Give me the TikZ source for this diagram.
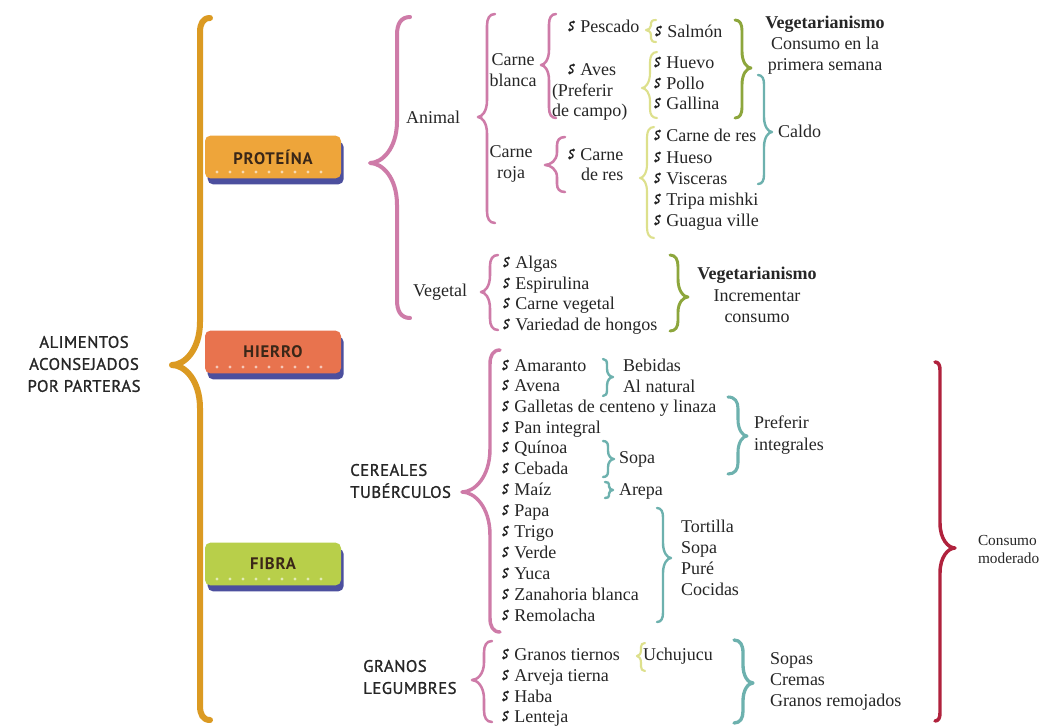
\documentclass[tikz,border=0pt]{standalone}
\usepackage{fontspec}
\usetikzlibrary{shadows}
\setmainfont{Liberation Serif}
\newfontfamily\capsfont[LetterSpace=3,FakeBold=1.2]{PT Sans}
\newfontfamily\boxfont[LetterSpace=5]{PT Sans}

\definecolor{orangeB}{HTML}{DB9A22}
\definecolor{pinkB}{HTML}{CE7BA8}
\definecolor{yellB}{HTML}{DDE08C}
\definecolor{oliveB}{HTML}{8DA63C}
\definecolor{tealB}{HTML}{6DB1AE}
\definecolor{redB}{HTML}{B0223D}
\definecolor{protF}{HTML}{EEA53A}
\definecolor{hierF}{HTML}{E8734E}
\definecolor{fibF}{HTML}{B8CF4A}
\definecolor{shadowC}{HTML}{4C4F9E}
\definecolor{inkC}{HTML}{262626}
\definecolor{labelC}{HTML}{3A2718}

% decorative list bullet: an S-shaped curl with a drop at each end
\newcommand\bul{\tikz[baseline={(0,0)}, x=1pt, y=1pt, line width=1.05pt, line cap=round]{%
  \fill[inkC] (4.1,7.5) circle (1.15);
  \draw[inkC] (4.1,7.5) .. controls (1.2,7.9) and (0.7,5.4) .. (2.5,4.7)
                        .. controls (4.3,4.0) and (4.3,1.5) .. (1.3,1.5);
  \fill[inkC] (1.3,1.6) circle (1.35);
}\hspace{4pt}}

% curly brace: style, body x, top y, bottom y, tip x, tip y, hook length (signed)
\newcommand\curlyb[7]{%
  \pgfmathsetmacro\cbdx{abs((#2)-(#5))}%
  \pgfmathsetmacro\cba{min(1.4*\cbdx+4,0.45*((#6)-(#3)))}%
  \pgfmathsetmacro\cbb{min(1.4*\cbdx+4,0.45*((#4)-(#6)))}%
  \pgfmathsetmacro\cbea{min(abs(#7)*1.2+2,0.3*((#6)-(#3)))}%
  \pgfmathsetmacro\cbeb{min(abs(#7)*1.2+2,0.3*((#4)-(#6)))}%
  \draw[#1] ({#2+(#7)},#3) .. controls ({#2+0.3*(#7)},#3) and (#2,{#3+0.4*\cbea}) .. (#2,{#3+\cbea})
    -- (#2,{#6-\cba}) .. controls (#2,{#6-0.35*\cba}) and ({#5+0.45*((#2)-(#5))},#6) .. (#5,#6)
    .. controls ({#5+0.45*((#2)-(#5))},#6) and (#2,{#6+0.35*\cbb}) .. (#2,{#6+\cbb})
    -- (#2,{#4-\cbeb}) .. controls (#2,{#4-0.4*\cbeb}) and ({#2+0.3*(#7)},#4) .. ({#2+(#7)},#4);
}

\tikzset{
  txt/.style={inner sep=0pt, outer sep=0pt, anchor=base west, text=inkC,
    font=\fontsize{13.5}{16}\selectfont},
  mtxt/.style={txt, anchor=west, align=left},
  tc/.style={txt, anchor=center, align=center},
  capslbl/.style={inner sep=0pt, anchor=west, align=left, text=inkC,
    font=\capsfont\fontsize{12.5}{16.5}\selectfont},
  catbox/.style={rounded corners=4pt, minimum width=102pt, minimum height=32pt,
    inner sep=0pt, text=labelC, font=\boxfont\bfseries\fontsize{12.5}{14}\selectfont,
    drop shadow={shadow xshift=2pt, shadow yshift=-4.5pt, fill=shadowC, opacity=1}},
  anybr/.style={line cap=round, line join=round},
  obr/.style={anybr, draw=orangeB, line width=4.5pt},
  pbr/.style={anybr, draw=pinkB, line width=1.9pt},
  ybr/.style={anybr, draw=yellB, line width=1.6pt},
  gbr/.style={anybr, draw=oliveB, line width=2.2pt},
  tbr/.style={anybr, draw=tealB, line width=1.8pt},
  rbr/.style={anybr, draw=redB, line width=2.6pt},
}

\begin{document}
\begin{tikzpicture}[x=0.75pt, y=-0.75pt]
\useasboundingbox (0,0) rectangle (1051,726);
\fill[white] (0,0) rectangle (1051,726);

% title and main brace
\node[capslbl, anchor=center, align=center] (title) at (84,364) {ALIMENTOS\\ACONSEJADOS\\POR PARTERAS};
\curlyb{obr}{200}{18}{720}{172}{365}{10}

% category boxes
\node[catbox, fill=protF] (prot) at (273,157) {PROTEÍNA};
\node[catbox, fill=hierF] (hierro) at (273,352) {HIERRO};
\node[catbox, fill=fibF] (fibra) at (273,564) {FIBRA};
\foreach \k in {0,...,8} {
  \fill[white, opacity=.6] ({217+13*\k},172) circle (1.6);
  \fill[white, opacity=.6] ({217+13*\k},367) circle (1.6);
  \fill[white, opacity=.6] ({217+13*\k},579) circle (1.6);
}

% ---------- protein ----------
\curlyb{pbr, line width=3pt}{397}{17}{318}{370}{163}{13}
\node[tc] (animal) at (433,117) {Animal};
\curlyb{pbr}{487}{14}{223}{478}{117}{8}
\node[tc] (cblanca) at (513,70) {Carne\\blanca};
\curlyb{pbr}{549}{14}{118}{541}{65}{7}
\node[txt] (pescado) at (568,32) {\bul Pescado};
\node[txt] (aves) at (568,75) {\bul Aves};
\node[txt] (aves2) at (552,96) {(Preferir};
\node[txt] (aves3) at (552,116) {de campo)};
\curlyb{ybr}{651}{20}{42}{646}{30}{5}
\node[txt] (salmon) at (655,37) {\bul Salmón};
\curlyb{ybr}{650}{52}{118}{642}{88}{7}
\node[txt] (huevo) at (654,68) {\bul Huevo};
\node[txt] (pollo) at (654,89) {\bul Pollo};
\node[txt] (gallina) at (654,109) {\bul Gallina};
\curlyb{gbr}{742}{20}{118}{751}{68}{-7}
\node[tc] (vegA) at (825,45) {\textbf{Vegetarianismo}\\Consumo en la\\primera semana};

\node[tc] (croja) at (511,164) {Carne\\roja};
\curlyb{pbr}{557}{137}{192}{545}{165}{8}
\node[txt] (carneres) at (568,160) {\bul Carne};
\node[txt] (deres) at (581,180) {de res};
\curlyb{ybr}{647}{127}{238}{640}{178}{7}
\node[txt] (res) at (654,141) {\bul Carne de res};
\node[txt] (hueso) at (654,163) {\bul Hueso};
\node[txt] (visceras) at (654,184) {\bul Visceras};
\node[txt] (tripa) at (654,205) {\bul Tripa mishki};
\node[txt] (guagua) at (654,226) {\bul Guagua ville};
\curlyb{tbr}{764}{75}{184}{772}{132}{-6}
\node[txt] (caldo) at (778,137) {Caldo};

\node[tc] (vegetal) at (440,292) {Vegetal};
\curlyb{pbr}{490}{255}{330}{481}{292}{8}
\node[txt] (algas) at (503,268) {\bul Algas};
\node[txt] (espirulina) at (503,289) {\bul Espirulina};
\node[txt] (cvegetal) at (503,309) {\bul Carne vegetal};
\node[txt] (hongos) at (503,330) {\bul Variedad de hongos};
\curlyb{gbr}{678}{255}{331}{688}{297}{-8}
\node[tc] (vegB) at (757,295) {\textbf{Vegetarianismo}\\Incrementar\\consumo};

% ---------- fibre ----------
\node[capslbl] (cereales) at (350,481) {CEREALES\\TUBÉRCULOS};
\curlyb{pbr, line width=2.6pt}{490}{350}{632}{462}{492}{10}
\node[txt] (amaranto) at (502,371) {\bul Amaranto};
\node[txt] (avena) at (502,391) {\bul Avena};
\node[txt] (galletas) at (502,412) {\bul Galletas de centeno y linaza};
\node[txt] (pan) at (502,433) {\bul Pan integral};
\node[txt] (quinoa) at (502,453) {\bul Quínoa};
\node[txt] (cebada) at (502,474) {\bul Cebada};
\node[txt] (maiz) at (502,495) {\bul Maíz};
\node[txt] (papa) at (502,516) {\bul Papa};
\node[txt] (trigo) at (502,537) {\bul Trigo};
\node[txt] (verde) at (502,558) {\bul Verde};
\node[txt] (yuca) at (502,579) {\bul Yuca};
\node[txt] (zanahoria) at (502,600) {\bul Zanahoria blanca};
\node[txt] (remolacha) at (502,621) {\bul Remolacha};

\curlyb{tbr}{607}{359}{396}{613}{377}{-4}
\node[mtxt] (bebidas) at (623,376) {Bebidas\\Al natural};
\curlyb{tbr, line width=2.3pt}{738}{397}{474}{747}{436}{-10}
\node[mtxt] (preferir) at (754,435) {Preferir\\integrales};
\curlyb{tbr}{608}{441}{477}{614}{459}{-5}
\node[txt] (sopaA) at (619,463) {Sopa};
\curlyb{tbr}{609}{482}{498}{613}{490}{-4}
\node[txt] (arepa) at (619,495) {Arepa};
\curlyb{tbr}{663}{508}{622}{671}{558}{-6}
\node[mtxt, font=\fontsize{13.5}{15.75}\selectfont] (formas) at (681,558) {Tortilla\\Sopa\\Puré\\Cocidas};

\curlyb{rbr}{940}{362}{721}{955}{548}{-5}
\node[mtxt, font=\fontsize{11.5}{13.5}\selectfont] (moderado) at (978,549) {Consumo\\moderado};

\node[capslbl] (granos) at (363,677) {GRANOS\\LEGUMBRES};
\curlyb{pbr}{484}{641}{722}{472}{680}{8}
\node[txt] (tiernos) at (502,660) {\bul Granos tiernos};
\node[txt] (arveja) at (502,681) {\bul Arveja tierna};
\node[txt] (haba) at (502,702) {\bul Haba};
\node[txt] (lenteja) at (502,722) {\bul Lenteja};
\curlyb{ybr}{641}{643}{671}{637}{656}{4}
\node[txt] (uchu) at (643,660) {Uchujucu};
\curlyb{tbr, line width=2.5pt}{743}{640}{723}{753}{683}{-9}
\node[mtxt, font=\fontsize{13.5}{15.75}\selectfont] (platos) at (770,681) {Sopas\\Cremas\\Granos remojados};
\end{tikzpicture}
\end{document}
